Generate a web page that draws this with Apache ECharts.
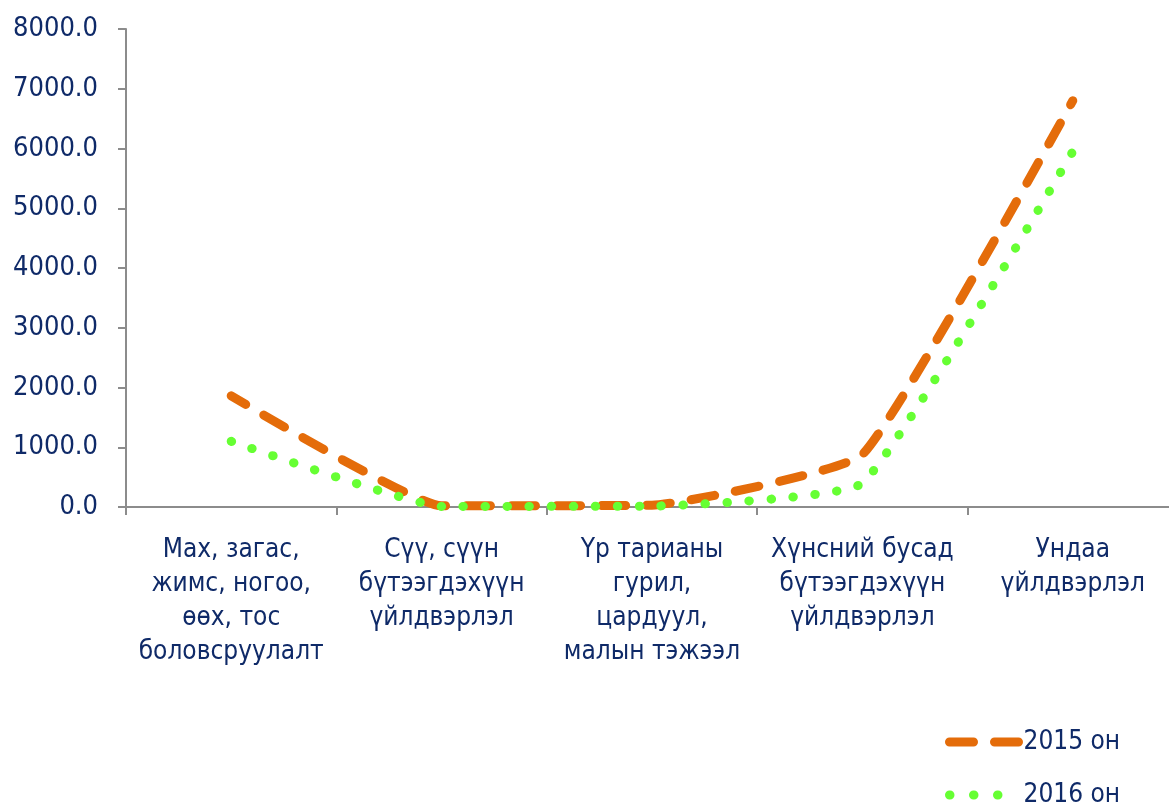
<!DOCTYPE html>
<html>
<head>
<meta charset="utf-8">
<script src="https://cdn.jsdelivr.net/npm/echarts@6/dist/echarts.min.js"></script>
<style>
  html, body { margin: 0; padding: 0; background: #fff; }
  #main { width: 1169px; height: 804px; }
</style>
</head>
<body>
<div id="main"></div>
<script>
const categories = [
  'Мах, загас,\nжимс, ногоо,\nөөх, тос\nболовсруулалт',
  'Сүү, сүүн\nбүтээгдэхүүн\nүйлдвэрлэл',
  'Үр тарианы\nгурил,\nцардуул,\nмалын тэжээл',
  'Хүнсний бусад\nбүтээгдэхүүн\nүйлдвэрлэл',
  'Ундаа\nүйлдвэрлэл'
]
const seriesNames = ['2015 он', '2016 он']
const values2015 = [1860, 20, 30, 880, 6800]
const values2016 = [1100, 10, 15, 400, 5950]

const font = '"DejaVu Sans Condensed", "DejaVu Sans", sans-serif'
const textColor = '#0F2A68'
const axisColor = '#8C8C8C'
const orange = '#E46C0A'
const green = '#66FF33'
const dash2015 = [24, 21]
const dot2016 = [0.5, 21.5]

const chart = echarts.init(document.getElementById('main'))

const option = {
  backgroundColor: '#fff',
  animation: false,
  textStyle: { fontFamily: font },
  grid: {
    left: 126,
    top: 29,
    width: 1052,
    height: 478,
    outerBoundsMode: 'none',
    containLabel: false
  },
  legend: {
    orient: 'vertical',
    left: 945,
    top: 727,
    height: 200,
    itemWidth: 69,
    itemHeight: 30,
    itemGap: 23,
    padding: 0,
    textStyle: {
      color: textColor,
      fontSize: 26,
      lineHeight: 30,
      fontFamily: font
    },
    data: [{
      name: seriesNames[0],
      itemStyle: { opacity: 0 },
      lineStyle: { color: orange, width: 9, type: dash2015, dashOffset: 0, cap: 'round' }
    }, {
      name: seriesNames[1],
      itemStyle: { opacity: 0 },
      lineStyle: { color: green, width: 9, type: [0.5, 23.5], dashOffset: 0, cap: 'round' }
    }]
  },
  xAxis: {
    type: 'category',
    data: categories,
    boundaryGap: true,
    axisLine: { lineStyle: { color: axisColor, width: 2 } },
    axisTick: { show: true, length: 8, lineStyle: { color: axisColor, width: 2 } },
    axisLabel: {
      interval: 0,
      margin: 26,
      color: textColor,
      fontSize: 26,
      lineHeight: 34,
      fontFamily: font
    },
    splitLine: { show: false }
  },
  yAxis: {
    type: 'value',
    min: 0,
    max: 8000,
    interval: 1000,
    axisLine: { show: true, lineStyle: { color: axisColor, width: 2 } },
    axisTick: { show: true, length: 8, lineStyle: { color: axisColor, width: 2 } },
    axisLabel: {
      margin: 28,
      color: textColor,
      fontSize: 27,
      fontFamily: font,
      formatter: v => v.toFixed(1)
    },
    splitLine: { show: false }
  },
  series: [{
    name: seriesNames[0],
    type: 'line',
    data: values2015,
    smooth: 0.12,
    symbol: 'none',
    color: orange,
    lineStyle: {
      color: orange,
      width: 9,
      type: dash2015,
      dashOffset: 7,
      cap: 'round',
      join: 'round'
    }
  }, {
    name: seriesNames[1],
    type: 'line',
    data: values2016,
    smooth: 0.12,
    symbol: 'none',
    color: green,
    lineStyle: {
      color: green,
      width: 9,
      type: dot2016,
      cap: 'round',
      join: 'round'
    }
  }]
}

chart.setOption(option)
</script>
</body>
</html>
